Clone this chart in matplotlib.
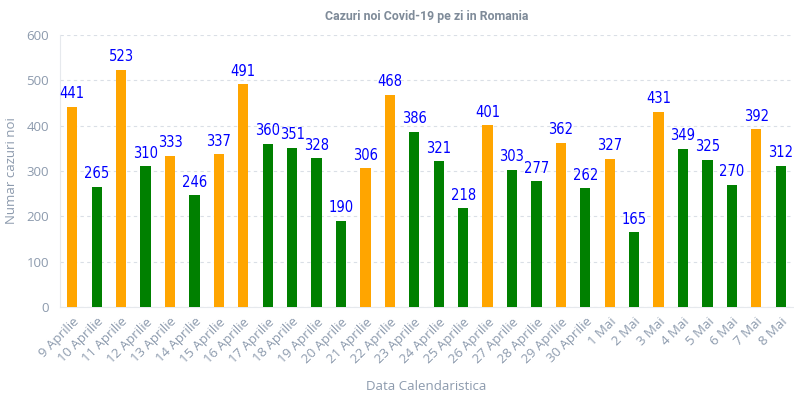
#!/usr/bin/env python3
"""Cazuri noi Covid-19 pe zi in Romania - bar chart."""
import matplotlib.pyplot as plt

plt.rcParams["font.family"] = ["Open Sans", "DejaVu Sans"]

DAYS = [f"{d} Aprilie" for d in range(9, 31)] + [f"{d} Mai" for d in range(1, 9)]
CASES = [441, 265, 523, 310, 333, 246, 337, 491, 360, 351, 328, 190, 306, 468, 386,
         321, 218, 401, 303, 277, 362, 262, 327, 165, 431, 349, 325, 270, 392, 312]

UP = "#FFA500"
DOWN = "#008000"
GRAY = "#8C9AAD"
GRID = "#DADFE6"

colors = [UP if i == 0 or v > CASES[i - 1] else DOWN for i, v in enumerate(CASES)]

fig = plt.figure(figsize=(7.94, 3.97), dpi=100)
ax = fig.add_axes([0.0756, 0.2267, 0.923, 0.6853])

x = range(len(CASES))
bars = ax.bar(x, CASES, width=0.42, color=colors, zorder=3)
for b, v in zip(bars, CASES):
    ax.annotate(str(v), (b.get_x() + b.get_width() / 2, v), xytext=(0, 4),
                textcoords="offset points", ha="center", va="bottom",
                fontsize=10.5, color="#0000FF", family=["DejaVu Sans"],
                fontstretch="condensed")

ax.set_xlim(-0.5, len(CASES) - 0.5)
ax.set_ylim(0, 600)
ax.set_yticks(range(0, 601, 100))
ax.yaxis.grid(True, linestyle=(0, (3, 3)), color=GRID, linewidth=0.8, zorder=0)

ax.set_xticks(list(x))
ax.set_xticklabels(DAYS, rotation=45, ha="right", rotation_mode="anchor")
ax.tick_params(axis="both", length=0, labelsize=9.5, colors=GRAY)
ax.tick_params(axis="x", pad=6)
ax.tick_params(axis="y", pad=8)

for side in ("top", "right"):
    ax.spines[side].set_visible(False)
ax.spines["left"].set_color("#E6E9ED")
ax.spines["bottom"].set_color("#E6E9ED")

ax.set_title("Cazuri noi Covid-19 pe zi in Romania", fontsize=8.9, fontweight="bold",
             family=["Roboto", "DejaVu Sans"], color="#7F8B99", pad=11)
ax.set_ylabel("Numar cazuri noi", fontsize=9.5, color=GRAY, labelpad=6)
ax.set_xlabel("Data Calendaristica", fontsize=9.5, color=GRAY, labelpad=10)

fig.savefig("out.png", dpi=100, facecolor="white")
